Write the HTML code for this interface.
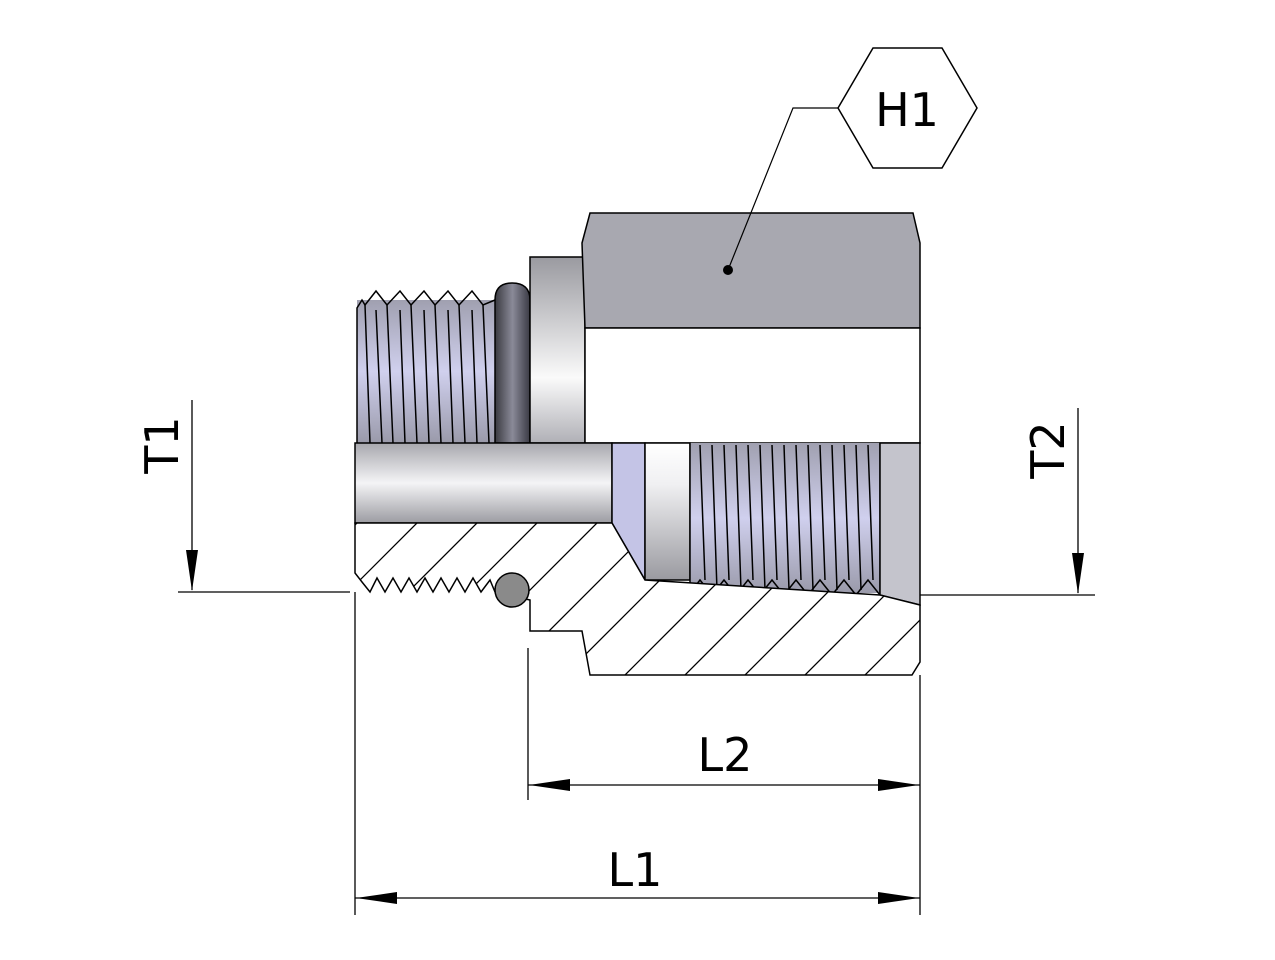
<!DOCTYPE html>
<html><head><meta charset="utf-8"><style>
html,body{margin:0;padding:0;background:#fff}
svg{display:block}
text{font-family:"DejaVu Sans","Liberation Sans",sans-serif;font-size:46px;fill:#000}
</style></head><body>
<svg width="1275" height="960" viewBox="0 0 1275 960" xmlns="http://www.w3.org/2000/svg">
<defs>
<linearGradient id="gv" x1="0" y1="0" x2="0" y2="1">
<stop offset="0" stop-color="#a8a8ae"/><stop offset="0.5" stop-color="#f4f4f6"/><stop offset="1" stop-color="#9c9ca2"/></linearGradient>
<linearGradient id="gb" x1="0" y1="0" x2="0" y2="1">
<stop offset="0" stop-color="#ffffff"/><stop offset="0.3" stop-color="#f0f0f2"/><stop offset="1" stop-color="#9a9aa0"/></linearGradient>
<linearGradient id="gc" x1="0" y1="0" x2="0" y2="1">
<stop offset="0" stop-color="#9a9aa0"/><stop offset="0.65" stop-color="#fafafa"/><stop offset="1" stop-color="#b0b0b6"/></linearGradient>
<linearGradient id="go" x1="0" y1="0" x2="1" y2="0">
<stop offset="0" stop-color="#3a3a40"/><stop offset="0.5" stop-color="#8a8a98"/><stop offset="1" stop-color="#3a3a44"/></linearGradient>
<linearGradient id="gt" x1="0" y1="0" x2="0" y2="1">
<stop offset="0" stop-color="#a0a0b0"/><stop offset="0.5" stop-color="#d0d0ee"/><stop offset="1" stop-color="#9a9aaa"/></linearGradient>
<clipPath id="hc"><path id="sec" d="M355,523 L612,523 L645,580 L880,595 L920,605 L920,662 L912,675 L590,675 L582,631 L530,631 L530,600 L495,592 L490,580 L481,592 L473,578 L465,592 L457,578 L449,592 L441,578 L433,592 L425,578 L417,592 L409,578 L401,592 L393,578 L385,592 L377,578 L370,592 L362,582 L355,573 Z"/></clipPath>
</defs>

<rect x="357" y="300" width="138" height="143" fill="url(#gt)"/>
<g stroke="#000" stroke-width="1.5" fill="none">
<path d="M357,443 L357,308 L362,300 L365,305 L376,291 L387,305 L400,291 L411,305 L424,291 L435,305 L448,291 L459,305 L472,291 L483,305 L495,300"/>
<path d="M365,305 L370,443 M376,310 L382,443 M387,305 L393,443 M400,310 L405,443 M411,305 L417,443 M424,310 L429,443 M435,305 L441,443 M448,310 L453,443 M459,305 L465,443 M472,310 L477,443 M483,305 L489,443"/>
</g>
<path d="M495,443 L495,300 Q495,283 512,283 Q530,283 530,300 L530,443 Z" fill="url(#go)" stroke="#000" stroke-width="1.5"/>
<rect x="530" y="257" width="55" height="186" fill="url(#gc)" stroke="#000" stroke-width="1.5"/>
<path d="M590,213 L913,213 L920,243 L920,328 L585,328 L582,243 Z" fill="#a8a8b0" stroke="#000" stroke-width="1.5"/>
<path d="M585,328 L920,328 L920,443 L585,443 Z" fill="#fff" stroke="#000" stroke-width="1.5"/>
<rect x="355" y="443" width="257" height="80" fill="url(#gv)" stroke="#000" stroke-width="1.5"/>
<path d="M612,443 L645,443 L645,580 L612,523 Z" fill="#c4c4e6" stroke="#000" stroke-width="1.5"/>
<rect x="645" y="443" width="45" height="137" fill="url(#gb)" stroke="#000" stroke-width="1.5"/>
<rect x="690" y="443" width="190" height="150" fill="url(#gt)"/>
<g stroke="#000" stroke-width="1.5" fill="none">
<path d="M690,443 L690,593 M880,443 L880,595"/>
<path d="M690,593 L700,580 L712,595 L724,580 L736,595 L748,580 L760,595 L772,580 L784,595 L796,580 L808,595 L820,580 L832,595 L844,580 L856,595 L868,580 L880,595"/>
<path d="M700,445 L705,580 M712,445 L717,590 M724,445 L729,580 M736,445 L741,590 M748,445 L753,580 M760,445 L765,590 M772,445 L777,580 M784,445 L789,590 M796,445 L801,580 M808,445 L813,590 M820,445 L825,580 M832,445 L837,590 M844,445 L849,580 M856,445 L861,590 M868,445 L873,580"/>
</g>
<path d="M880,443 L920,443 L920,605 L880,595 Z" fill="#c4c4cc" stroke="#000" stroke-width="1.5"/>
<use href="#sec" fill="#fff" stroke="#000" stroke-width="1.5"/>
<g clip-path="url(#hc)" stroke="#000" stroke-width="1.3">
<path d="M180,700 L360,520 M240,700 L420,520 M300,700 L480,520 M360,700 L540,520 M420,700 L600,520 M480,700 L660,520 M540,700 L720,520 M600,700 L780,520 M660,700 L840,520 M720,700 L900,520 M780,700 L960,520 M840,700 L1020,520 M900,700 L1080,520"/>
</g>
<circle cx="512" cy="590" r="17" fill="#8a8a8a" stroke="#000" stroke-width="1.5"/>

<path d="M838,108 L873,48 L942,48 L977,108 L942,168 L873,168 Z" fill="#fff" stroke="#000" stroke-width="1.5"/>
<text x="907" y="126" text-anchor="middle">H1</text>
<path d="M838,108 L793,108 L728,270" fill="none" stroke="#000" stroke-width="1.2"/>
<circle cx="728" cy="270" r="5" fill="#000"/>

<g stroke="#000" stroke-width="1.3" fill="none">
<path d="M178,592 L350,592 M192,400 L192,590"/>
<path d="M920,595 L1095,595 M1078,408 L1078,593"/>
<path d="M355,592 L355,915 M528,648 L528,800 M920,675 L920,915"/>
<path d="M528,785 L920,785 M355,898 L920,898"/>
</g>
<g fill="#000">
<path d="M192,591 L186,550 L198,550 Z"/>
<path d="M1078,594 L1072,553 L1084,553 Z"/>
<path d="M529,785 L570,779 L570,791 Z"/>
<path d="M919,785 L878,779 L878,791 Z"/>
<path d="M356,898 L397,892 L397,904 Z"/>
<path d="M919,898 L878,892 L878,904 Z"/>
</g>
<text x="725" y="771" text-anchor="middle">L2</text>
<text x="635" y="886" text-anchor="middle">L1</text>
<text transform="translate(178,445) rotate(-90)" text-anchor="middle">T1</text>
<text transform="translate(1064,450) rotate(-90)" text-anchor="middle">T2</text>
</svg>
</body></html>
